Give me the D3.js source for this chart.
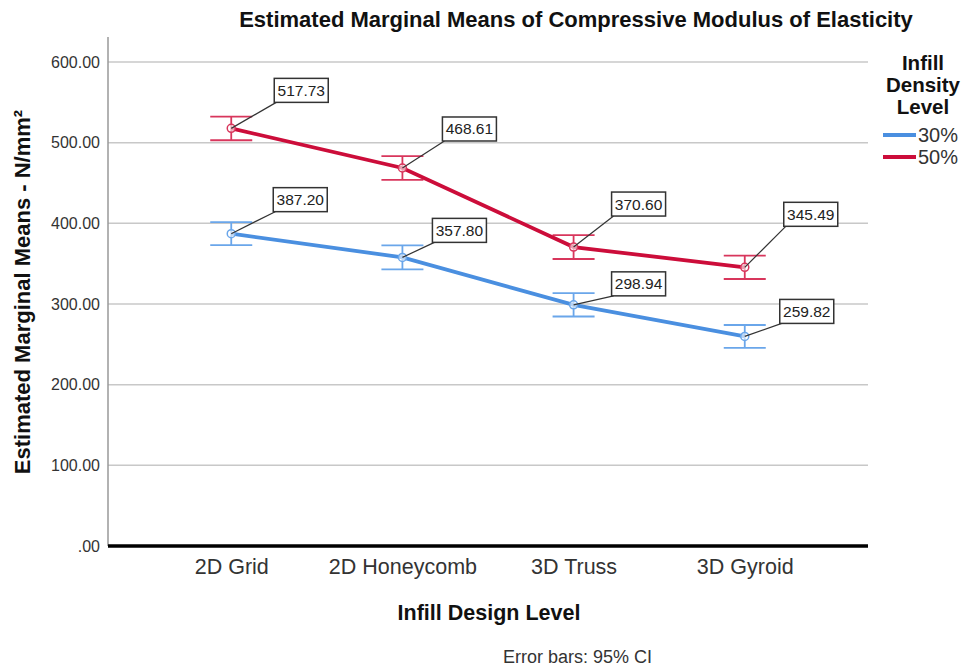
<!DOCTYPE html>
<html>
<head>
<meta charset="utf-8">
<script src="https://cdn.jsdelivr.net/npm/d3@7"></script>
<style>
  body { margin: 0; background: #fff; }
  svg { display: block; font-family: "Liberation Sans", Arial, sans-serif; }
</style>
</head>
<body>
<svg id="chart" width="965" height="670"></svg>
<script>
// Data
const designs = ["2D Grid", "2D Honeycomb", "3D Truss", "3D Gyroid"];
const densities = ["30%", "50%"];
const means30 = [387.20, 357.80, 298.94, 259.82];
const means50 = [517.73, 468.61, 370.60, 345.49];
const lower30 = [373.0, 343.0, 284.5, 245.6];
const upper30 = [401.4, 372.6, 313.4, 274.0];
const lower50 = [503.0, 454.0, 355.8, 331.0];
const upper50 = [532.4, 483.2, 385.4, 360.0];
const yTicks = [0, 100, 200, 300, 400, 500, 600];

const colors = { "30%": "#4a8fe0", "50%": "#cc0d3a" };
const barColors = { "30%": "#6aa6ea", "50%": "#d8365c" };

// label box offsets from the point (layout only)
const labelOffsets = {
    "30%": [[42, -22], [30, -15], [38, -9], [35, -13]],
    "50%": [[43, -26], [40, -27], [38, -31], [39, -41]]
};

const series = [
    { key: "30%", means: means30, lo: lower30, hi: upper30 },
    { key: "50%", means: means50, lo: lower50, hi: upper50 }
];

const chart = {
    left: 108, right: 868, top: 37, bottom: 546
};

const svg = d3.select("#chart");

const x = d3.scalePoint()
    .domain(designs)
    .range([chart.left, chart.right])
    .padding(0.72);

const y = d3.scaleLinear()
    .domain([0, 631])
    .range([chart.bottom, chart.top]);

// Grid lines
svg.append("g")
    .selectAll("line")
    .data(yTicks.filter(d => d > 0))
    .join("line")
    .attr("x1", chart.left)
    .attr("x2", chart.right)
    .attr("y1", d => y(d))
    .attr("y2", d => y(d))
    .attr("stroke", "#c8c8c8")
    .attr("stroke-width", 1.5);

// Y axis
const yAxis = svg.append("g")
    .attr("transform", `translate(${chart.left},0)`)
    .call(d3.axisLeft(y).tickValues(yTicks).tickSize(0).tickPadding(8)
        .tickFormat(d => d === 0 ? ".00" : d3.format(".2f")(d)));
yAxis.select(".domain").remove();
yAxis.selectAll("text")
    .attr("font-size", 16)
    .attr("fill", "#333");
svg.append("line")
    .attr("x1", chart.left).attr("x2", chart.left)
    .attr("y1", chart.top).attr("y2", chart.bottom)
    .attr("stroke", "#999")
    .attr("stroke-width", 1.5);

// X axis
const xAxis = svg.append("g")
    .attr("transform", `translate(0,${chart.bottom})`)
    .call(d3.axisBottom(x).tickSize(0).tickPadding(13));
xAxis.select(".domain").remove();
xAxis.selectAll("text")
    .attr("font-size", 21.5)
    .attr("fill", "#333");
svg.append("line")
    .attr("x1", chart.left).attr("x2", chart.right)
    .attr("y1", chart.bottom).attr("y2", chart.bottom)
    .attr("stroke", "#000")
    .attr("stroke-width", 3.5);

// Error bars
series.forEach(s => {
    const g = svg.append("g")
        .attr("stroke", barColors[s.key])
        .attr("stroke-width", 1.8);
    designs.forEach((d, i) => {
        const cx = x(d);
        g.append("line")
            .attr("x1", cx).attr("x2", cx)
            .attr("y1", y(s.lo[i])).attr("y2", y(s.hi[i]));
        [s.lo[i], s.hi[i]].forEach(v => {
            g.append("line")
                .attr("x1", cx - 21).attr("x2", cx + 21)
                .attr("y1", y(v)).attr("y2", y(v));
        });
    });
});

// Lines
const line = d3.line()
    .x((d, i) => x(designs[i]))
    .y(d => y(d));

series.forEach(s => {
    svg.append("path")
        .datum(s.means)
        .attr("fill", "none")
        .attr("stroke", colors[s.key])
        .attr("stroke-width", 3.8)
        .attr("d", line);
});

// Points
series.forEach(s => {
    svg.append("g")
        .selectAll("circle")
        .data(s.means)
        .join("circle")
        .attr("cx", (d, i) => x(designs[i]))
        .attr("cy", d => y(d))
        .attr("r", 4)
        .attr("fill", "#fff")
        .attr("fill-opacity", 0.6)
        .attr("stroke", barColors[s.key])
        .attr("stroke-width", 1.5);
});

// Value labels with leader lines
series.forEach(s => {
    s.means.forEach((v, i) => {
        const px = x(designs[i]);
        const py = y(v);
        const [dx, dy] = labelOffsets[s.key][i];
        const bx = px + dx;
        const by = py + dy;
        svg.append("line")
            .attr("x1", px).attr("y1", py)
            .attr("x2", bx + 2).attr("y2", by)
            .attr("stroke", "#333")
            .attr("stroke-width", 1.2);
        svg.append("rect")
            .attr("x", bx).attr("y", by - 24)
            .attr("width", 54).attr("height", 24)
            .attr("fill", "#fff")
            .attr("stroke", "#333")
            .attr("stroke-width", 1.5);
        svg.append("text")
            .attr("x", bx + 27).attr("y", by - 6.5)
            .attr("text-anchor", "middle")
            .attr("font-size", 15.5)
            .attr("fill", "#222")
            .text(d3.format(".2f")(v));
    });
});

// Title
svg.append("text")
    .attr("x", 576).attr("y", 27)
    .attr("text-anchor", "middle")
    .attr("font-size", 22)
    .attr("font-weight", "bold")
    .attr("fill", "#111")
    .text("Estimated Marginal Means of Compressive Modulus of Elasticity");

// Axis titles
svg.append("text")
    .attr("transform", "translate(30,292) rotate(-90)")
    .attr("text-anchor", "middle")
    .attr("font-size", 22)
    .attr("font-weight", "bold")
    .attr("fill", "#111")
    .text("Estimated Marginal Means - N/mm²");

svg.append("text")
    .attr("x", 489).attr("y", 620)
    .attr("text-anchor", "middle")
    .attr("font-size", 21.5)
    .attr("font-weight", "bold")
    .attr("fill", "#111")
    .text("Infill Design Level");

svg.append("text")
    .attr("x", 503).attr("y", 663)
    .attr("font-size", 18)
    .attr("fill", "#333")
    .text("Error bars: 95% CI");

// Legend
const legend = svg.append("g");
["Infill", "Density", "Level"].forEach((t, i) => {
    legend.append("text")
        .attr("x", 923).attr("y", 70 + i * 22)
        .attr("text-anchor", "middle")
        .attr("font-size", 20.5)
        .attr("font-weight", "bold")
        .attr("fill", "#111")
        .text(t);
});
densities.forEach((k, i) => {
    const ly = 135 + i * 22;
    legend.append("line")
        .attr("x1", 883).attr("x2", 916)
        .attr("y1", ly).attr("y2", ly)
        .attr("stroke", colors[k])
        .attr("stroke-width", 3.8);
    legend.append("text")
        .attr("x", 918).attr("y", ly + 7)
        .attr("font-size", 20)
        .attr("fill", "#333")
        .text(k);
});
</script>
</body>
</html>
